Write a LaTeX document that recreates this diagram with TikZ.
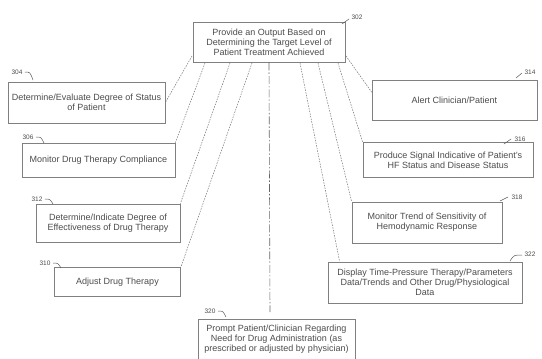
\documentclass[tikz,border=0pt]{standalone}
\usepackage{fontspec}
\setmainfont{Liberation Sans}
\begin{document}
\begin{tikzpicture}[x=1pt,y=-1pt,
  box/.style={draw=black!50, line width=0.7pt, inner sep=0pt, align=center, text=black!70,
     font=\fontsize{9}{10}\selectfont},
  conn/.style={draw=black!55, line width=0.5pt, dash pattern=on 1.5pt off 1.2pt},
  centre/.style={draw=black!60, line width=0.6pt, dash pattern=on 8pt off 2pt on 1.5pt off 2pt},
  ref/.style={text=black!70, font=\fontsize{6.5}{7}\selectfont, inner sep=0.5pt},
  tick/.style={draw=black!65, line width=0.5pt}]
\useasboundingbox (0,0) rectangle (542,359);
\fill[white] (0,0) rectangle (542,359);

% boxes
\node[box, minimum width=152pt, minimum height=40pt] (top) at (269,42)
  {Provide an Output Based on\\Determining the Target Level of\\Patient Treatment Achieved};
\node[box, minimum width=157pt, minimum height=41pt] (l1) at (86.5,102.5)
  {Determine/Evaluate Degree of Status\\of Patient};
\node[box, minimum width=153pt, minimum height=34pt] (l2) at (98.5,160)
  {Monitor Drug Therapy Compliance};
\node[box, minimum width=144pt, minimum height=38pt] (l3) at (108,223)
  {Determine/Indicate Degree of\\Effectiveness of Drug Therapy};
\node[box, minimum width=126pt, minimum height=29pt] (l4) at (117.5,282)
  {Adjust Drug Therapy};
\node[box, minimum width=157pt, minimum height=40pt] (bot) at (276.5,339)
  {Prompt Patient/Clinician Regarding\\Need for Drug Administration (as\\prescribed or adjusted by physician)};
\node[box, minimum width=165pt, minimum height=40pt] (r1) at (454.5,100.5)
  {Alert Clinician/Patient};
\node[box, minimum width=170pt, minimum height=35pt] (r2) at (448,160)
  {Produce Signal Indicative of Patient's\\HF Status and Disease Status};
\node[box, minimum width=150pt, minimum height=41pt] (r3) at (427,222.5)
  {Monitor Trend of Sensitivity of\\Hemodynamic Response};
\node[box, minimum width=194pt, minimum height=41pt] (r4) at (425,282.5)
  {Display Time-Pressure Therapy/Parameters\\Data/Trends and Other Drug/Physiological\\Data};

% connector anchors on the top box
\coordinate (c1) at (192,56);
\coordinate (c2) at (205,63);
\coordinate (c3) at (230,63);
\coordinate (c4) at (252,63);
\coordinate (c5) at (346,56);
\coordinate (c6) at (338,63);
\coordinate (c7) at (318,63);
\coordinate (c8) at (300,63);
\coordinate (cbot) at (270,312);

\draw[conn] (c1) -- (l1.east);
\draw[conn] (c2) -- (l2.north east);
\draw[conn] (c3) -- (l3.north east);
\draw[conn] (c4) -- (l4.north east);
\draw[conn] (c5) -- ([yshift=-12pt]r1.north west);
\draw[conn] (c6) -- (r2.north west);
\draw[conn] (c7) -- (r3.north west);
\draw[conn] (c8) -- ([xshift=12pt]r4.north west);
\draw[centre] (top.south) -- (cbot);

% reference numerals
\node[ref] (n302) at (357,17) {302};
\draw[tick] (342,24) -- (349,19);
\node[ref] (n304) at (17,72) {304};
\draw[tick] (25,72) .. controls (30,72) .. (33,80);
\node[ref] (n306) at (28,137) {306};
\draw[tick] (36,137) .. controls (41,137) .. (44,143);
\node[ref] (n312) at (37,199) {312};
\draw[tick] (45,199) .. controls (50,199) .. (53,204);
\node[ref] (n310) at (45,263) {310};
\draw[tick] (53,263) .. controls (58,263) .. (61,268);
\node[ref] (n320) at (210,311) {320};
\draw[tick] (218,311) .. controls (223,311) .. (226,317);
\node[ref] (n314) at (530,72) {314};
\draw[tick] (516,78) -- (522,73);
\node[ref] (n316) at (520,139) {316};
\draw[tick] (504,144) -- (511,139);
\node[ref] (n318) at (517,197) {318};
\draw[tick] (500,201) -- (508,197);
\node[ref] (n322) at (530,254) {322};
\draw[tick] (510,261) .. controls (514,255) .. (522,255);
\end{tikzpicture}
\end{document}
